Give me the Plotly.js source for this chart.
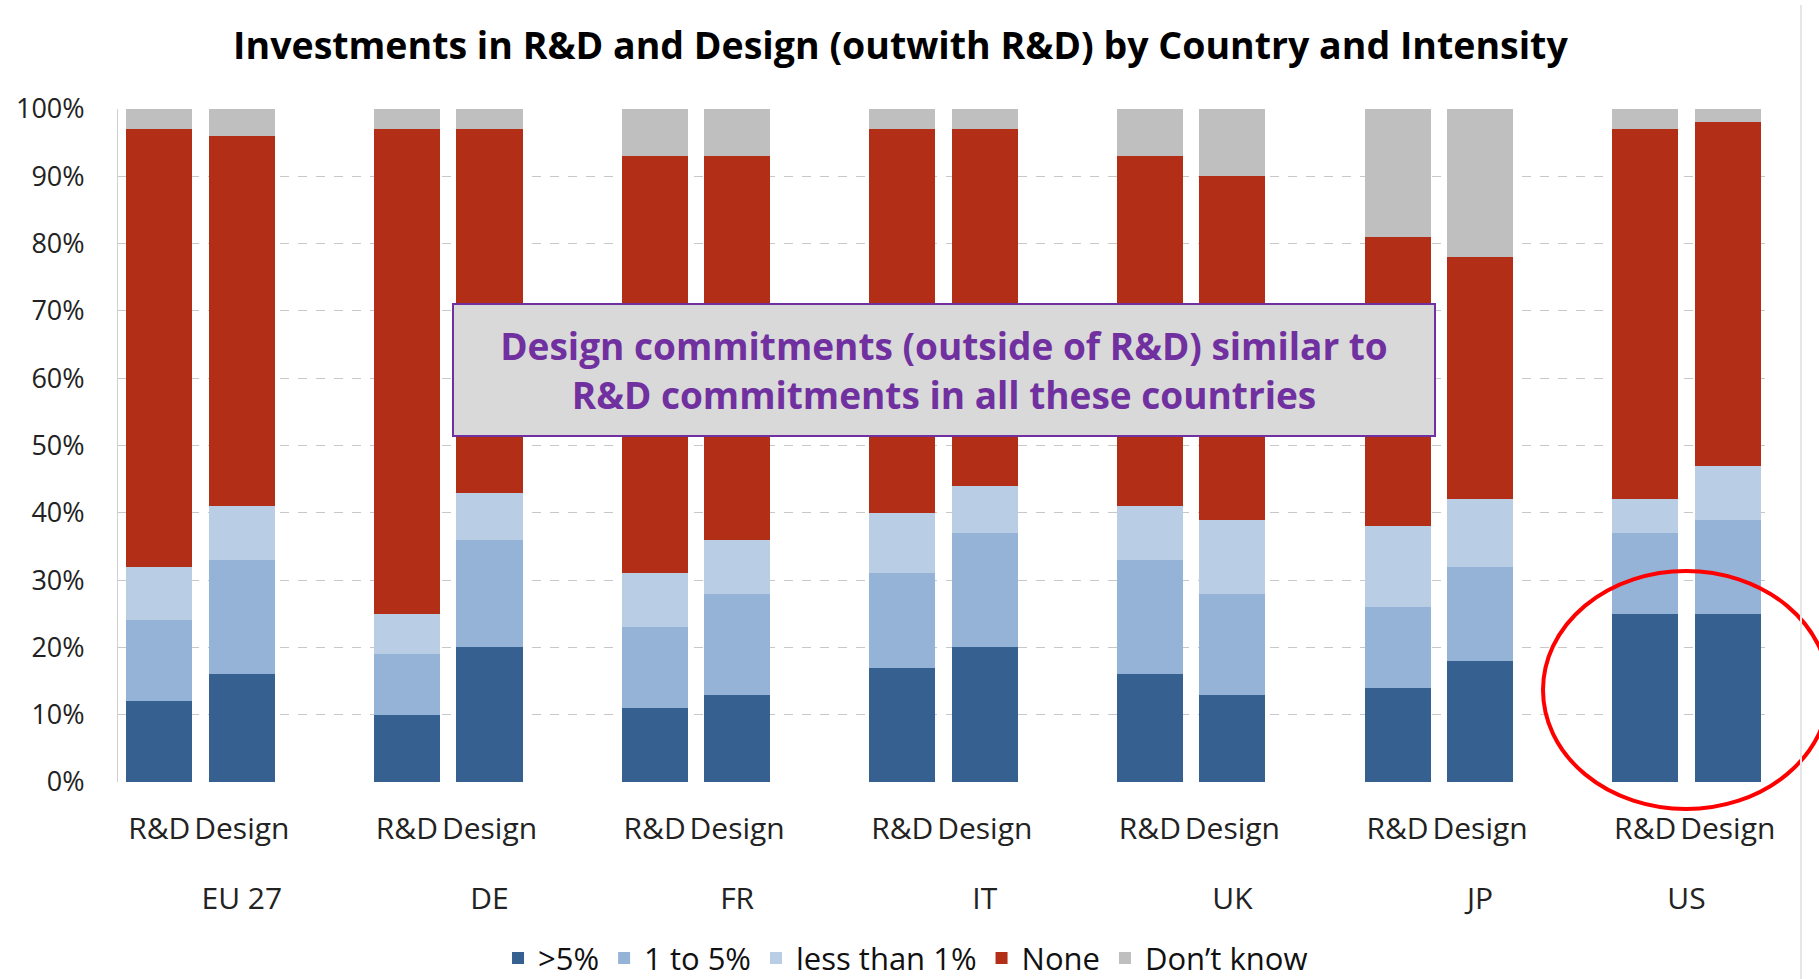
<!DOCTYPE html>
<html>
<head>
<meta charset="utf-8">
<script src="https://cdn.plot.ly/plotly-3.0.1.min.js"></script>
<style>html,body{margin:0;padding:0;background:#fff;}#chart{width:1819px;height:979px;}</style>
</head>
<body>
<div id="chart"></div>
<script>
// Data (percent of firms), pairs per country: R&D then Design
const countries = ["EU 27", "DE", "FR", "IT", "UK", "JP", "US"];
const kinds = ["R&D", "Design"];
const seriesNames = [">5%", "1 to 5%", "less than 1%", "None", "Don\u2019t know"];
const over5      = [12, 16, 10, 20, 11, 13, 17, 20, 16, 13, 14, 18, 25, 25];
const oneToFive  = [12, 17,  9, 16, 12, 15, 14, 17, 17, 15, 12, 14, 12, 14];
const lessThan1  = [ 8,  8,  6,  7,  8,  8,  9,  7,  8, 11, 12, 10,  5,  8];
const none       = [65, 55, 72, 54, 62, 57, 57, 53, 52, 51, 43, 36, 55, 51];
const dontKnow   = [ 3,  4,  3,  3,  7,  7,  3,  3,  7, 10, 19, 22,  3,  2];
const colors = ["#35608f", "#95b3d7", "#b9cde5", "#b32e16", "#bfbfbf"];

const allSeries = [over5, oneToFive, lessThan1, none, dontKnow];

// Category slots: R&D, Design, then an empty spacer slot (none after the last group)
const slotIds = [], slotData = [], tickIds = [], tickTexts = [], groupCenters = [];
countries.forEach((c, ci) => {
  const start = slotIds.length;
  kinds.forEach((k, ki) => {
    const id = c + " \u2013 " + k;
    slotIds.push(id); slotData.push(ci * 2 + ki);
    tickIds.push(id); tickTexts.push(k);
  });
  if (ci < countries.length - 1) { slotIds.push(c + " \u2013 gap"); slotData.push(-1); }
  groupCenters.push((start + slotIds.length - 1) / 2);
});
const xRange = [-0.5, slotIds.length - 0.5];

const traces = allSeries.map((vals, si) => ({
  type: "bar",
  name: seriesNames[si],
  x: slotIds,
  y: slotData.map(i => i < 0 ? null : vals[i]),
  marker: { color: colors[si], line: { width: 0 } },
  hoverinfo: "skip"
}));
// carrier for the country-level axis (no visible marks)
traces.push({
  type: "scatter", mode: "markers", xaxis: "x2", yaxis: "y",
  x: groupCenters, y: groupCenters.map(() => null),
  showlegend: false, hoverinfo: "skip"
});

const fontFam = "Open Sans, sans-serif";
const layout = {
  width: 1819, height: 979,
  paper_bgcolor: "#ffffff", plot_bgcolor: "#ffffff",
  margin: { l: 118, r: 50, t: 109, b: 197, autoexpand: false },
  barmode: "stack",
  bargap: 0.2,
  title: {
    text: "<b>Investments in R&D and Design (outwith R&D) by Country and Intensity</b>",
    font: { family: fontFam, size: 37.5, color: "#000000" },
    xref: "container", x: 0.495, xanchor: "center",
    yref: "container", y: 0.953, yanchor: "middle"
  },
  xaxis: {
    type: "category",
    categoryorder: "array",
    categoryarray: slotIds,
    range: xRange,
    tickvals: tickIds,
    ticktext: tickTexts,
    automargin: false,
    showgrid: false,
    zeroline: false,
    showline: false,
    ticks: "",
    tickangle: 0,
    ticklabelstandoff: 26,
    tickfont: { family: fontFam, size: 30, color: "#222222" }
  },
  xaxis2: {
    overlaying: "x",
    anchor: "y",
    side: "bottom",
    type: "linear",
    range: xRange,
    tickvals: groupCenters,
    ticktext: countries,
    automargin: false,
    showgrid: false,
    zeroline: false,
    showline: false,
    ticks: "",
    tickangle: 0,
    ticklabelstandoff: 96,
    tickfont: { family: fontFam, size: 30, color: "#222222" }
  },
  yaxis: {
    automargin: false,
    range: [0, 100],
    dtick: 10,
    ticksuffix: "%",
    showgrid: true,
    gridcolor: "#c8c8c8",
    griddash: "dash",
    gridwidth: 1,
    zeroline: false,
    showline: true,
    linecolor: "#d0d0d0",
    linewidth: 1,
    ticks: "",
    ticklabelstandoff: 27,
    tickfont: { family: fontFam, size: 27, color: "#222222" }
  },
  legend: {
    orientation: "h",
    x: 0.477, xanchor: "center",
    y: -0.262, yanchor: "middle",
    font: { family: fontFam, size: 31, color: "#111111" },
    traceorder: "normal"
  },
  annotations: [{
    xref: "paper", yref: "y",
    x: 0.5, y: 61.2,
    xanchor: "center", yanchor: "middle",
    text: "<b>Design commitments (outside of R&D) similar to<br>R&D commitments in all these countries</b>",
    font: { family: fontFam, size: 37, color: "#7030a0" },
    bgcolor: "#d9d9d9",
    bordercolor: "#7030a0",
    borderwidth: 2,
    borderpad: 10,
    width: 960,
    height: 110,
    showarrow: false
  }],
  shapes: [{
    type: "circle",
    xref: "paper", yref: "paper",
    x0: (1543 - 118) / 1651, x1: (1829 - 118) / 1651,
    y0: (782 - 809) / 673, y1: (782 - 571) / 673,
    line: { color: "#ff0000", width: 4 },
    fillcolor: "rgba(0,0,0,0)"
  }, {
    type: "line",
    xref: "paper", yref: "paper",
    x0: (1801 - 118) / 1651, x1: (1801 - 118) / 1651,
    y0: (782 - 979) / 673, y1: (782 - 5) / 673,
    line: { color: "#e6e6e6", width: 2 }
  }]
};

Plotly.newPlot("chart", traces, layout, { displayModeBar: false, staticPlot: true });
</script>
</body>
</html>
